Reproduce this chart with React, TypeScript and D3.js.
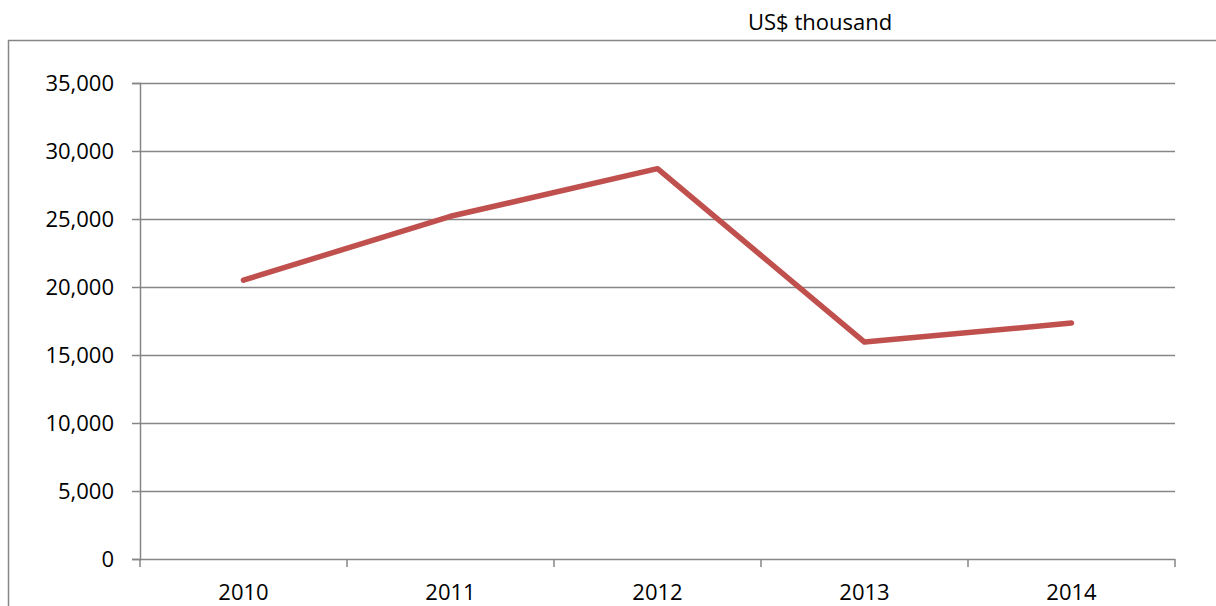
import React, { useEffect, useRef } from 'react';
import * as d3 from 'd3';

const years = ['2010', '2011', '2012', '2013', '2014'];
const values = [20500, 25200, 28700, 15950, 17350];
const yTicks = [0, 5000, 10000, 15000, 20000, 25000, 30000, 35000];
const unitLabel = 'US$ thousand';

const App = () => {
  const svgRef = useRef<SVGSVGElement>(null);

  useEffect(() => {
    const svg = d3.select(svgRef.current);
    svg.selectAll('*').remove();

    const font = "'Open Sans', Calibri, sans-serif";
    const gridColor = '#868686';

    // plot area
    const margin = { top: 83, left: 140 };
    const width = 1035;
    const height = 476;

    // outer frame (runs off the page on the right and bottom)
    svg.append('path')
      .attr('d', 'M8.5,700 L8.5,40.5 L1300,40.5')
      .attr('fill', 'none')
      .attr('stroke', gridColor)
      .attr('stroke-width', 1.5);

    svg.append('text')
      .attr('x', 748)
      .attr('y', 30)
      .attr('font-family', font)
      .attr('font-size', 22)
      .attr('fill', '#000')
      .text(unitLabel);

    const x = d3.scaleBand().domain(years).range([0, width]);
    const y = d3.scaleLinear().domain([0, 35000]).range([height, 0]);

    const g = svg.append('g').attr('transform', `translate(${margin.left},${margin.top})`);

    // horizontal gridlines
    g.selectAll('line.grid')
      .data(yTicks.filter(d => d > 0))
      .enter()
      .append('line')
      .attr('class', 'grid')
      .attr('x1', 0)
      .attr('x2', width)
      .attr('y1', d => Math.round(y(d)) + 0.5)
      .attr('y2', d => Math.round(y(d)) + 0.5)
      .attr('stroke', gridColor)
      .attr('stroke-width', 1.5);

    // y axis
    const yAxis = g.append('g')
      .call(d3.axisLeft(y).tickValues(yTicks).tickSize(8).tickPadding(18).tickFormat(d3.format(',')));
    yAxis.select('.domain').attr('stroke', gridColor).attr('stroke-width', 1.5);
    yAxis.selectAll('.tick line').attr('stroke', gridColor).attr('stroke-width', 1.5);
    yAxis.selectAll('.tick text')
      .attr('font-family', font)
      .attr('font-size', 22)
      .attr('fill', '#000');

    // x axis with ticks at band boundaries
    const xAxis = g.append('g').attr('transform', `translate(0,${height})`);
    xAxis.append('line')
      .attr('x1', 0)
      .attr('x2', width)
      .attr('y1', 0.5)
      .attr('y2', 0.5)
      .attr('stroke', gridColor)
      .attr('stroke-width', 1.5);
    const bounds = years.map(d => x(d) as number).concat([width]);
    xAxis.selectAll('line.tick')
      .data(bounds)
      .enter()
      .append('line')
      .attr('class', 'tick')
      .attr('x1', d => d)
      .attr('x2', d => d)
      .attr('y1', 0)
      .attr('y2', 8)
      .attr('stroke', gridColor)
      .attr('stroke-width', 1.5);
    xAxis.selectAll('text')
      .data(years)
      .enter()
      .append('text')
      .attr('x', d => (x(d) as number) + x.bandwidth() / 2)
      .attr('y', 41)
      .attr('text-anchor', 'middle')
      .attr('font-family', font)
      .attr('font-size', 22)
      .attr('fill', '#000')
      .text(d => d);

    // the series line
    const line = d3.line<number>()
      .x((d, i) => (x(years[i]) as number) + x.bandwidth() / 2)
      .y(d => y(d));

    g.append('path')
      .datum(values)
      .attr('d', line)
      .attr('fill', 'none')
      .attr('stroke', '#C0504D')
      .attr('stroke-width', 5.5)
      .attr('stroke-linecap', 'round')
      .attr('stroke-linejoin', 'round');
  }, []);

  return (
    <div style={{ position: 'absolute', left: 0, top: 0 }}>
      <svg ref={svgRef} width={1216} height={606} style={{ display: 'block', background: '#fff' }}></svg>
    </div>
  );
};

export default App;
